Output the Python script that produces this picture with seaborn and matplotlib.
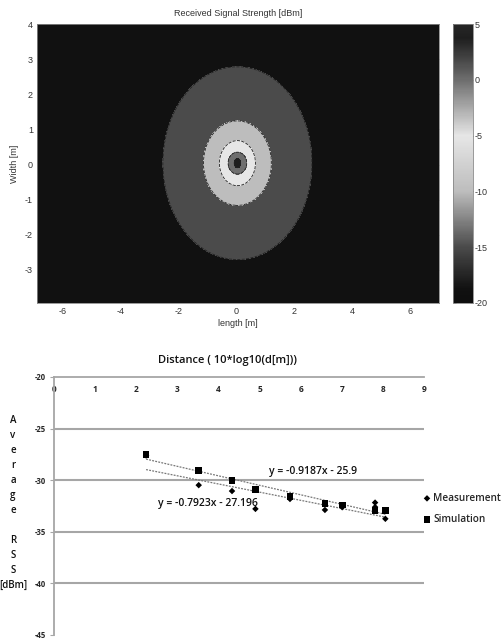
import numpy as np
import pandas as pd
import matplotlib
matplotlib.use("Agg")
import matplotlib.pyplot as plt
import seaborn as sns
from matplotlib.colors import LinearSegmentedColormap, Normalize

# ---- top panel: received signal strength map ----
map_xlim = [-6.88, 7.0]
map_ylim = [-3.94, 4.0]
source_xy = [0.04, 0.04]
boundary_levels = [2.5, -2.5, -7.5, -12.5, -17.5]
boundary_semi_x = [0.11, 0.32, 0.62, 1.17, 2.57]
boundary_semi_y = [0.13, 0.31, 0.64, 1.20, 2.74]
peak_rss = 5.0
floor_rss = -20.0
cbar_ticks = [5, 0, -5, -10, -15, -20]
cmap_points = [(-20, "#0e0e0e"), (-18.75, "#111111"), (-15, "#4b4b4b"), (-10, "#bdbdbd"),
               (-5, "#e6e6e6"), (0, "#6e6e6e"), (3.75, "#1e1e1e"), (5, "#262626")]

# ---- bottom panel: average RSS vs distance ----
dist = [2.24, 3.52, 4.33, 4.90, 5.74, 6.59, 7.01, 7.81, 8.06]
rss_meas = [-27.6, -30.48, -31.05, -32.78, -31.82, -32.88, -32.62, -32.17, -33.74]
rss_sim = [-27.5, -29.07, -30.06, -30.9, -31.57, -32.24, -32.4, -32.9, -32.94]
extra_meas_x = [7.81]
extra_meas_y = [-32.6]
fit_slope = [-0.9187, -0.7923]
fit_icept = [-25.9, -27.196]
fit_text = ["y = -0.9187x - 25.9", "y = -0.7923x - 27.196"]
fit_text_xy = [(5.23, -29.17), (2.54, -32.3)]

sns.set_style("white")
plt.rcParams["font.family"] = ["Liberation Sans", "DejaVu Sans"]
plt.rcParams["axes.unicode_minus"] = False

fig = plt.figure(figsize=(5.01, 6.40), dpi=100)
W, H = 501.0, 640.0
ax1 = fig.add_axes([37 / W, 1 - 303 / H, 402 / W, 279 / H])
cax = fig.add_axes([453 / W, 1 - 303 / H, 20 / W, 279 / H])
ax2 = fig.add_axes([54 / W, 1 - 635 / H, 370 / W, 258 / H])

# build field from the read ellipse boundaries
gx = np.linspace(map_xlim[0], map_xlim[1], 900)
gy = np.linspace(map_ylim[0], map_ylim[1], 600)
X, Y = np.meshgrid(gx, gy)
dx, dy = X - source_xy[0], Y - source_xy[1]
d = np.hypot(dx, dy)
th = np.arctan2(dy, dx)
radii = [np.zeros_like(d)]
for a, b in zip(boundary_semi_x, boundary_semi_y):
    radii.append(a * b / np.sqrt((b * np.cos(th)) ** 2 + (a * np.sin(th)) ** 2))
radii.append(radii[-1] * 2.0)
R = np.stack(radii)
V = np.array([peak_rss] + boundary_levels + [floor_rss])
k = np.clip(np.sum(d[None] >= R, axis=0) - 1, 0, len(V) - 2)
r0 = np.take_along_axis(R, k[None], 0)[0]
r1 = np.take_along_axis(R, (k + 1)[None], 0)[0]
t = np.clip((d - r0) / (r1 - r0), 0, 1)
Z = V[k] + t * (V[k + 1] - V[k])

lo, hi = floor_rss, peak_rss
cmap = LinearSegmentedColormap.from_list(
    "rss", [((v - lo) / (hi - lo), c) for v, c in cmap_points])
norm = Normalize(lo, hi)
levels = [floor_rss] + boundary_levels[::-1] + [peak_rss]
ax1.contourf(X, Y, Z, levels=levels, cmap=cmap, norm=norm)
ax1.contour(X, Y, Z, levels=boundary_levels[::-1], colors="#222222", linewidths=0.6)
ax1.set_xlim(map_xlim)
ax1.set_ylim(map_ylim)
ax1.set_xticks([-6, -4, -2, 0, 2, 4, 6])
ax1.set_yticks([-3, -2, -1, 0, 1, 2, 3, 4])
ax1.tick_params(direction="in", length=2.5, width=0.5, color="#777777", labelsize=6.5,
                labelcolor="#333333", top=True, right=True, pad=3)
for s in ax1.spines.values():
    s.set_color("#888888")
    s.set_linewidth(0.6)
ax1.set_title("Received Signal Strength [dBm]", fontsize=6.5, color="#333333", pad=6)
ax1.set_xlabel("length [m]", fontsize=6.5, color="#333333", labelpad=2)
ax1.set_ylabel("Width [m]", fontsize=6.5, color="#333333", labelpad=4)

sm = plt.cm.ScalarMappable(norm=norm, cmap=cmap)
cb = fig.colorbar(sm, cax=cax, ticks=cbar_ticks)
cax.tick_params(direction="in", length=2.5, width=0.5, color="#555555", labelsize=6.5,
                labelcolor="#333333", left=True, right=True, pad=1)
cb.outline.set_edgecolor("#888888")
cb.outline.set_linewidth(0.6)

# ---- bottom panel ----
bfont = ["Open Sans", "DejaVu Sans"]
df = pd.DataFrame({"dist": dist, "meas": rss_meas, "sim": rss_sim})
for yv in [-25, -30, -35, -40]:
    ax2.axhline(yv, color="#a6a6a6", lw=1.5, zorder=0)
sns.scatterplot(data=df, x="dist", y="meas", marker="D", s=11, color="black",
                edgecolor="none", ax=ax2, label="Measurement", zorder=3)
sns.scatterplot(x=extra_meas_x, y=extra_meas_y, marker="D", s=11, color="black",
                edgecolor="none", ax=ax2, zorder=3)
sns.scatterplot(data=df, x="dist", y="sim", marker="s", s=24, color="black",
                edgecolor="none", ax=ax2, label="Simulation", zorder=4)
xs = np.array([min(dist), max(dist)])
for m, c in zip(fit_slope, fit_icept):
    sns.lineplot(x=xs, y=m * xs + c, ax=ax2, color="#777777", lw=0.9,
                 linestyle=(0, (1.5, 1)), zorder=2)
for txt, (tx, ty) in zip(fit_text, fit_text_xy):
    ax2.text(tx, ty, txt, fontsize=7.5, family=bfont, va="center", ha="left",
             color="#111111", fontweight="semibold")

ax2.set_xlim(0, 9)
ax2.set_ylim(-45, -20)
ax2.set_xticks(range(10))
ax2.set_yticks([-20, -25, -30, -35, -40, -45])
ax2.xaxis.tick_top()
ax2.tick_params(axis="x", length=0, pad=-12, labelsize=6)
ax2.tick_params(axis="y", left=True, length=3, width=0.8, color="#a6a6a6", labelsize=5.5, pad=3)
for lab in ax2.get_xticklabels() + ax2.get_yticklabels():
    lab.set_family(bfont)
    lab.set_fontweight("bold")
ax2.set_xlabel("")
ax2.set_ylabel("")
for side in ["bottom", "right"]:
    ax2.spines[side].set_visible(False)
for side in ["top", "left"]:
    ax2.spines[side].set_color("#a6a6a6")
    ax2.spines[side].set_linewidth(1.3)
ax2.grid(False)

leg = ax2.legend(loc="upper left", bbox_to_anchor=(419 / W, 1 - 489 / H),
                 bbox_transform=fig.transFigure, frameon=False, fontsize=7.2,
                 handletextpad=0.2, handlelength=0.8, labelspacing=1.0, borderaxespad=0)
for t_ in leg.get_texts():
    t_.set_family(bfont)
    t_.set_fontweight("semibold")

fig.text(227 / W, 1 - 360 / H, "Distance ( 10*log10(d[m]))", fontsize=8, family=bfont,
         ha="center", va="center", color="#111111", fontweight="semibold")
fig.text(13 / W, 1 - 503 / H, "A\nv\ne\nr\na\ng\ne\n\nR\nS\nS\n[dBm]", fontsize=7,
         family=bfont, ha="center", va="center", ma="center", linespacing=1.5,
         color="#111111", fontweight="semibold")

fig.savefig("out.png", dpi=100)
